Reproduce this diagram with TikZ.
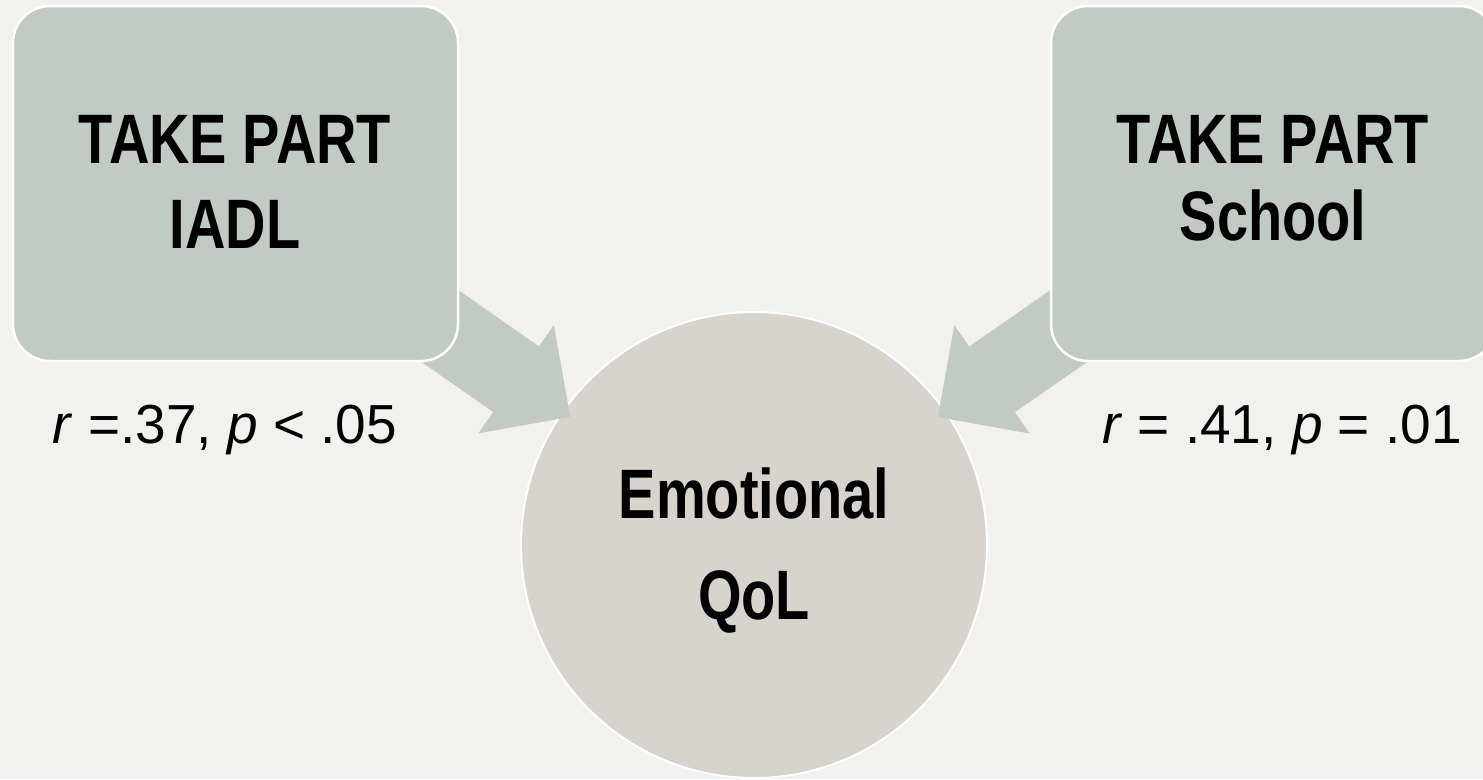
\documentclass[tikz,border=0pt]{standalone}
\usepackage{fontspec}
\setmainfont{Liberation Sans}
\newfontfamily\headfont{Liberation Sans}[FakeStretch=0.8]
\usetikzlibrary{arrows.meta}
\definecolor{bgc}{HTML}{F2F1ED}
\definecolor{boxc}{HTML}{C1CBC3}
\definecolor{circc}{HTML}{D8D3CD}
\pgfdeclarelayer{bg}
\pgfdeclarelayer{mid}
\pgfsetlayers{bg,mid,main}
\begin{document}
\begin{tikzpicture}[x=1pt,y=-1pt,
  boxnode/.style={draw=white, line width=2.5pt, fill=boxc, rounded corners=37pt,
    minimum width=445pt, minimum height=355pt, inner sep=0pt, outer sep=0pt},
  qolnode/.style={circle, draw=white, line width=2pt, fill=circc,
    minimum size=466pt, inner sep=0pt, outer sep=0pt},
  head/.style={font=\headfont\bfseries\fontsize{70}{84}\selectfont, anchor=base, inner sep=0pt},
  stat/.style={font=\fontsize{55}{66}\selectfont, anchor=base, inner sep=0pt},
  bigarrow/.style={draw=boxc, line width=80pt,
    -{Triangle[length=66pt,width=132pt,line width=0pt]}, shorten >=-9pt}]
\useasboundingbox (0,0) rectangle (1483,779);
\begin{pgfonlayer}{bg}
\fill[bgc] (0,0) rectangle (1483,779);
\node[qolnode] (qol) at (754,545) {};
\end{pgfonlayer}
\node[boxnode] (iadl) at (235.5,183.5) {};
\node[boxnode] (school) at (1273.5,183.5) {};
\begin{pgfonlayer}{mid}
\draw[bigarrow] (iadl.center) -- (qol);
\draw[bigarrow] (school.center) -- (qol);
\end{pgfonlayer}
\node[head] (iadl1) at (235,163) {TAKE PART};
\node[head] (iadl2) at (235,248) {IADL};
\node[head] (sch1) at (1273,163) {TAKE PART};
\node[head] (sch2) at (1273,240) {School};
\node[head] (qol1) at (754,518) {Emotional};
\node[head] (qol2) at (754,619) {QoL};
\node[stat] (statl) at (225,443) {\textit{r} =.37, \textit{p} < .05};
\node[stat] (statr) at (1282,443) {\textit{r} = .41, \textit{p} = .01};
\end{tikzpicture}
\end{document}
